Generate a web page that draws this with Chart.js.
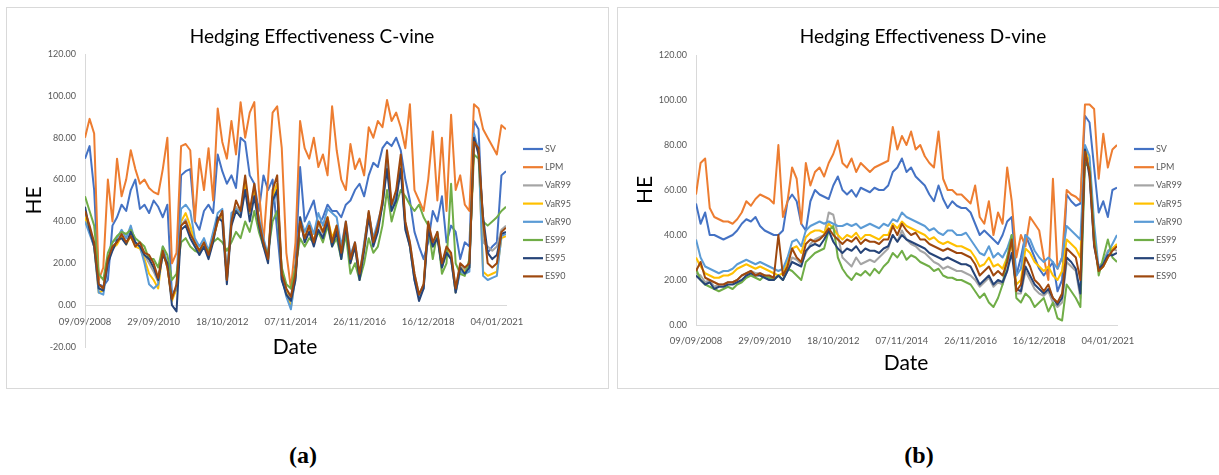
<!DOCTYPE html>
<html>
<head>
<meta charset="utf-8">
<script src="https://cdn.jsdelivr.net/npm/chart.js@4/dist/chart.umd.min.js"></script>
<style>
  html, body { margin: 0; padding: 0; background: #fff; }
  body { width: 1219px; height: 475px; position: relative; overflow: hidden; }
  canvas.plot { position: absolute; top: 7px; }
  #ca { left: 6px; }
  #cb { left: 617px; }
  .frame { position: absolute; top: 7px; height: 382px; border: 1px solid #d9d9d9; box-sizing: border-box; pointer-events: none; }
  #fa { left: 6px; width: 603px; }
  #fb { left: 617px; width: 604px; }
  .cap { position: absolute; top: 442px; font: bold 24px "Liberation Serif", "DejaVu Serif", serif; color: #000; transform: translateX(-50%); }
</style>
</head>
<body>
<canvas id="ca" class="plot" width="603" height="382"></canvas>
<canvas id="cb" class="plot" width="602" height="382"></canvas>
<div id="fa" class="frame"></div>
<div id="fb" class="frame"></div>
<div class="cap" style="left:303px">(a)</div>
<div class="cap" style="left:919px">(b)</div>
<script>
// Date labels shown on the horizontal axis (one every 15 observations, 50 days apart)
const tickLabels = ['09/09/2008', '29/09/2010', '18/10/2012', '07/11/2014', '26/11/2016', '16/12/2018', '04/01/2021'];
const seriesNames = ['SV', 'LPM', 'VaR99', 'VaR95', 'VaR90', 'ES99', 'ES95', 'ES90'];
const seriesColors = ['#4472C4', '#ED7D31', '#A5A5A5', '#FFC000', '#5B9BD5', '#70AD47', '#264478', '#9E480E'];

// ---- C-vine hedging effectiveness ----
const cvSV = [70, 76, 55, 10, 9, 12, 38, 42, 48, 45,
  55, 60, 46, 48, 44, 50, 47, 42, 48, 5,
  8, 62, 64, 65, 40, 36, 45, 48, 44, 72,
  64, 58, 62, 56, 80, 78, 62, 58, 45, 62,
  55, 60, 35, 12, 6, 3, 20, 66, 40, 45,
  50, 38, 42, 48, 45, 45, 42, 48, 50, 55,
  58, 52, 62, 68, 66, 75, 78, 76, 80, 74,
  60, 50, 35, 28, 22, 30, 45, 40, 52, 30,
  38, 35, 22, 30, 28, 88, 84, 35, 25, 28,
  30, 62, 64];
const cvLPM = [80, 89, 82, 12, 18, 60, 40, 70, 52, 60,
  74, 65, 58, 60, 56, 54, 53, 65, 80, 20,
  25, 76, 77, 74, 40, 70, 55, 75, 50, 94,
  78, 70, 88, 72, 97, 80, 92, 97, 55, 30,
  60, 92, 95, 75, 25, 8, 30, 88, 75, 70,
  80, 66, 72, 62, 95, 74, 60, 55, 77, 65,
  70, 62, 85, 80, 88, 85, 98, 88, 92, 85,
  75, 96, 55, 50, 45, 60, 83, 50, 80, 45,
  91, 55, 62, 48, 45, 96, 94, 84, 80, 76,
  72, 86, 84];
const cvVaR99 = [44, 36, 29, 8, 8, 21, 27, 30, 33, 30,
  33, 29, 28, 24, 20, 16, 11, 25, 19, 3,
  8, 38, 41, 35, 29, 25, 29, 23, 31, 40,
  43, 12, 39, 47, 44, 58, 44, 55, 39, 29,
  22, 52, 58, 15, 7, 3, 15, 40, 31, 37,
  30, 39, 34, 41, 30, 37, 25, 39, 21, 29,
  14, 28, 44, 30, 37, 48, 70, 47, 53, 69,
  39, 30, 15, 5, 10, 39, 29, 34, 19, 27,
  24, 8, 19, 17, 19, 79, 74, 30, 28, 26,
  28, 36, 38];
const cvVaR95 = [42, 35, 28, 6, 7, 21, 27, 29, 33, 29,
  33, 28, 27, 22, 15, 12, 8, 26, 18, 2,
  8, 40, 44, 38, 30, 26, 30, 24, 32, 40,
  44, 12, 40, 46, 43, 58, 44, 55, 40, 30,
  22, 52, 58, 14, 6, -1, 14, 40, 32, 38,
  30, 40, 35, 42, 32, 38, 25, 38, 20, 28,
  13, 28, 44, 30, 38, 48, 70, 46, 53, 68,
  38, 28, 13, 4, 9, 38, 28, 34, 18, 27,
  23, 6, 18, 16, 18, 80, 74, 16, 14, 15,
  16, 32, 33];
const cvVaR90 = [40, 34, 28, 6, 5, 20, 30, 32, 36, 32,
  38, 30, 28, 20, 10, 8, 10, 28, 20, 5,
  8, 46, 48, 45, 32, 28, 32, 26, 35, 44,
  46, 14, 44, 46, 44, 55, 46, 52, 42, 32,
  24, 48, 55, 14, 4, -2, 14, 42, 35, 40,
  34, 44, 38, 46, 44, 42, 28, 40, 24, 30,
  14, 30, 44, 32, 40, 48, 68, 46, 52, 66,
  38, 28, 12, 4, 8, 38, 28, 34, 18, 26,
  22, 6, 16, 15, 16, 82, 74, 14, 12, 13,
  14, 33, 34];
const cvES99 = [52, 45, 38, 15, 12, 25, 30, 33, 35, 34,
  36, 32, 30, 28, 22, 22, 18, 28, 24, 12,
  15, 30, 32, 28, 26, 25, 28, 26, 30, 32,
  30, 26, 30, 35, 32, 40, 35, 45, 35, 28,
  25, 40, 45, 18, 10, 8, 18, 32, 28, 32,
  30, 35, 30, 38, 28, 32, 22, 34, 15, 20,
  12, 20, 32, 25, 28, 38, 55, 40, 48, 55,
  52, 48, 45, 48, 42, 38, 22, 35, 15, 20,
  58, 20, 15, 14, 22, 72, 70, 40, 38, 40,
  42, 45, 47];
const cvES95 = [47, 36, 28, 8, 7, 20, 26, 31, 32, 29,
  35, 30, 28, 24, 22, 18, 12, 24, 20, 0,
  -3, 36, 38, 32, 28, 24, 28, 22, 30, 42,
  40, 10, 38, 45, 42, 55, 40, 52, 38, 28,
  20, 50, 55, 12, 5, 2, 12, 42, 30, 35,
  28, 36, 32, 40, 28, 35, 22, 38, 20, 28,
  12, 26, 42, 28, 35, 48, 65, 45, 50, 65,
  36, 28, 12, 2, 8, 36, 28, 32, 18, 25,
  22, 6, 18, 15, 18, 80, 72, 42, 25, 22,
  24, 34, 35];
const cvES90 = [45, 38, 30, 10, 8, 22, 28, 30, 34, 30,
  33, 28, 30, 25, 24, 20, 13, 26, 18, 3,
  10, 38, 40, 34, 30, 26, 30, 24, 32, 40,
  45, 12, 40, 50, 45, 62, 45, 58, 40, 30,
  22, 55, 62, 15, 8, 4, 15, 40, 32, 38,
  30, 40, 35, 42, 30, 38, 25, 40, 22, 30,
  15, 28, 45, 30, 38, 50, 74, 48, 55, 72,
  40, 30, 15, 5, 10, 40, 30, 35, 20, 28,
  25, 8, 20, 18, 20, 78, 75, 40, 20, 18,
  20, 35, 37];

// ---- D-vine hedging effectiveness ----
const dvSV = [54, 45, 50, 40, 40, 39, 38, 39, 40, 42,
  45, 47, 46, 48, 44, 42, 41, 40, 40, 42,
  55, 58, 55, 45, 42, 55, 60, 58, 57, 56,
  62, 66, 60, 58, 60, 57, 61, 60, 59, 61,
  60, 60, 62, 68, 70, 74, 68, 70, 66, 64,
  62, 58, 55, 62, 56, 52, 55, 53, 52, 52,
  50, 45, 40, 42, 40, 38, 36, 40, 46, 48,
  22, 30, 40, 35, 30, 25, 22, 25, 28, 15,
  20, 58, 55, 53, 54, 93, 90, 70, 50, 55,
  48, 60, 61];
const dvLPM = [58, 72, 74, 52, 48, 47, 46, 46, 45, 47,
  50, 55, 53, 56, 58, 57, 56, 54, 80, 48,
  55, 70, 65, 45, 72, 62, 68, 70, 66, 72,
  76, 82, 72, 70, 74, 68, 72, 70, 68, 70,
  71, 72, 73, 88, 78, 84, 80, 86, 78, 80,
  75, 72, 70, 86, 65, 60, 60, 58, 58, 56,
  54, 62, 48, 45, 55, 40, 50, 45, 70, 55,
  30, 40, 35, 48, 45, 42, 30, 20, 65, 25,
  30, 60, 58, 57, 55, 98, 98, 96, 65, 85,
  70, 78, 80];
const dvVaR99 = [23, 22, 19, 20, 17, 18, 18, 19, 19, 20,
  22, 23, 24, 23, 23, 22, 21, 21, 22, 20,
  24, 30, 29, 27, 32, 36, 38, 39, 40, 50,
  49, 40, 30, 28, 26, 30, 27, 28, 29, 28,
  30, 32, 34, 40, 37, 42, 38, 36, 35, 33,
  32, 30, 28, 27, 25, 26, 25, 24, 24, 23,
  22, 20, 17, 19, 21, 17, 19, 18, 24, 40,
  14, 14, 24, 20, 16, 14, 13, 15, 10, 8,
  10, 28, 26, 24, 12, 78, 68, 36, 26, 28,
  33, 34, 33];
const dvVaR95 = [30, 26, 23, 22, 21, 21, 22, 22, 23, 25,
  26, 27, 26, 25, 26, 25, 24, 23, 22, 23,
  28, 34, 35, 32, 39, 41, 42, 42, 41, 45,
  43, 40, 38, 40, 39, 41, 38, 40, 40, 39,
  38, 40, 40, 45, 43, 46, 44, 43, 42, 41,
  40, 38, 39, 37, 36, 37, 36, 35, 35, 34,
  33, 30, 26, 27, 30, 26, 27, 25, 30, 36,
  18, 20, 34, 32, 28, 26, 24, 26, 22, 20,
  24, 38, 36, 34, 30, 79, 72, 40, 24, 26,
  30, 34, 36];
const dvVaR90 = [38, 30, 26, 25, 24, 23, 24, 24, 25, 27,
  28, 29, 28, 27, 28, 27, 26, 25, 24, 25,
  30, 37, 38, 35, 42, 44, 45, 46, 45, 46,
  45, 44, 44, 45, 44, 45, 43, 44, 45, 44,
  43, 45, 44, 47, 46, 50, 48, 47, 46, 45,
  44, 42, 43, 41, 40, 42, 42, 40, 40, 41,
  38, 35, 32, 31, 35, 30, 32, 30, 34, 40,
  22, 25, 40, 38, 33, 30, 28, 30, 28, 25,
  30, 44, 42, 40, 38, 80, 75, 45, 25, 28,
  32, 36, 40];
const dvES99 = [25, 20, 18, 17, 16, 15, 16, 17, 16, 18,
  19, 21, 22, 21, 20, 22, 21, 20, 22, 20,
  25, 24, 22, 20, 28, 30, 32, 33, 34, 42,
  44, 30, 25, 22, 20, 23, 22, 24, 22, 25,
  23, 26, 28, 32, 30, 33, 29, 31, 30, 28,
  27, 26, 24, 25, 22, 21, 21, 20, 20, 19,
  18, 15, 12, 14, 10, 8, 12, 18, 30, 40,
  12, 10, 14, 12, 8, 10, 12, 6, 10, 3,
  2, 18, 15, 12, 8, 72, 70, 40, 22, 30,
  38, 30, 28];
const dvES95 = [22, 20, 18, 19, 16, 17, 17, 18, 18, 19,
  20, 22, 23, 22, 22, 21, 20, 20, 22, 20,
  24, 28, 27, 26, 33, 35, 36, 35, 38, 42,
  37, 34, 32, 34, 33, 35, 32, 34, 33, 33,
  32, 34, 35, 40, 37, 40, 38, 37, 36, 35,
  34, 32, 31, 30, 29, 30, 29, 28, 27, 27,
  26, 22, 18, 20, 22, 18, 20, 19, 24, 32,
  16, 15, 26, 22, 18, 16, 14, 16, 12, 9,
  12, 30, 28, 25, 14, 78, 66, 35, 25, 27,
  31, 31, 32];
const dvES90 = [24, 28, 21, 20, 19, 18, 18, 19, 19, 20,
  22, 23, 24, 22, 23, 22, 22, 21, 40, 22,
  26, 34, 30, 28, 36, 38, 37, 38, 40, 43,
  40, 38, 36, 38, 37, 39, 36, 38, 37, 37,
  36, 38, 38, 44, 40, 45, 42, 40, 41, 38,
  38, 36, 35, 34, 33, 34, 33, 32, 32, 31,
  30, 27, 22, 24, 26, 22, 24, 22, 28, 38,
  15, 18, 30, 26, 20, 18, 15, 18, 12, 10,
  14, 34, 32, 30, 20, 77, 68, 36, 24, 26,
  30, 33, 35];

Chart.defaults.font.family = 'Lato, "Open Sans", sans-serif';

// Draws the chart title, the axis titles and the legend column on the right
const panelText = {
  id: 'panelText',
  afterDraw(chart, args, o) {
    const ctx = chart.ctx;
    ctx.save();
    ctx.fillStyle = '#000';
    ctx.textAlign = 'center';
    ctx.textBaseline = 'middle';
    ctx.font = '19px Lato';
    ctx.fillText(o.title, o.titleX, o.titleY);
    ctx.font = '21px Lato';
    ctx.fillText('Date', o.xTitleX, o.xTitleY);
    ctx.translate(o.yTitleX, o.yTitleY);
    ctx.rotate(-Math.PI / 2);
    ctx.fillText('HE', 0, 0);
    ctx.restore();

    ctx.save();
    ctx.font = '9px Lato';
    ctx.textAlign = 'left';
    ctx.textBaseline = 'middle';
    chart.data.datasets.forEach((ds, k) => {
      const y = o.legendTop + k * o.legendStep;
      ctx.strokeStyle = ds.borderColor;
      ctx.lineWidth = 2.2;
      ctx.beginPath();
      ctx.moveTo(o.legendX, y);
      ctx.lineTo(o.legendX + 20, y);
      ctx.stroke();
      ctx.fillStyle = '#595959';
      ctx.fillText(ds.label, o.legendX + 22, y);
    });
    ctx.restore();
  }
};

function makePanel(canvasId, title, series, yMin, pad, xPad, xTitleY) {
  const n = series[0].length;
  const datasets = series.map((vals, k) => ({
    label: seriesNames[k],
    data: vals,
    borderColor: seriesColors[k],
    backgroundColor: seriesColors[k],
    borderWidth: 2,
    borderJoinStyle: 'round',
    pointRadius: 0,
    tension: 0,
    order: series.length - k
  }));
  return new Chart(document.getElementById(canvasId), {
    type: 'line',
    data: { labels: series[0].map((_, i) => i), datasets },
    plugins: [panelText],
    options: {
      responsive: false,
      animation: false,
      devicePixelRatio: 1,
      layout: { padding: pad },
      plugins: {
        legend: { display: false },
        tooltip: { enabled: false },
        panelText: {
          title, titleX: 306, titleY: 30,
          xTitleX: 289, xTitleY,
          yTitleX: 28, yTitleY: pad.top + (pad.chartH / 2),
          legendX: 517, legendTop: 142, legendStep: 18.2
        }
      },
      scales: {
        x: {
          type: 'linear',
          min: 0,
          max: n - 1,
          position: { y: 0 },
          afterBuildTicks: (s) => { s.ticks = tickLabels.map((_, k) => ({ value: k * 15 })); },
          ticks: {
            autoSkip: false, maxRotation: 0, minRotation: 0,
            padding: xPad, color: '#595959', font: { size: 9.5 },
            callback: (v, i) => tickLabels[i]
          },
          grid: { display: false, drawTicks: false },
          border: { display: true, color: '#d9d9d9', width: 1 }
        },
        y: {
          min: yMin,
          max: 120,
          afterFit: (s) => { s.width = 79; },
          ticks: {
            stepSize: 20, padding: 9, color: '#595959', font: { size: 9 },
            callback: (v) => v.toFixed(2)
          },
          grid: { display: false, drawTicks: false },
          border: { display: true, color: '#d9d9d9', width: 1 }
        }
      }
    }
  });
}

makePanel('ca', 'Hedging Effectiveness C-vine',
  [cvSV, cvLPM, cvVaR99, cvVaR95, cvVaR90, cvES99, cvES95, cvES90],
  -20, { top: 47, bottom: 42, left: 0, right: 103, chartH: 293 }, 11, 340);

makePanel('cb', 'Hedging Effectiveness D-vine',
  [dvSV, dvLPM, dvVaR99, dvVaR95, dvVaR90, dvES99, dvES95, dvES90],
  0, { top: 48, bottom: 64, left: 0, right: 102, chartH: 270 }, 10, 356);
</script>
</body>
</html>
